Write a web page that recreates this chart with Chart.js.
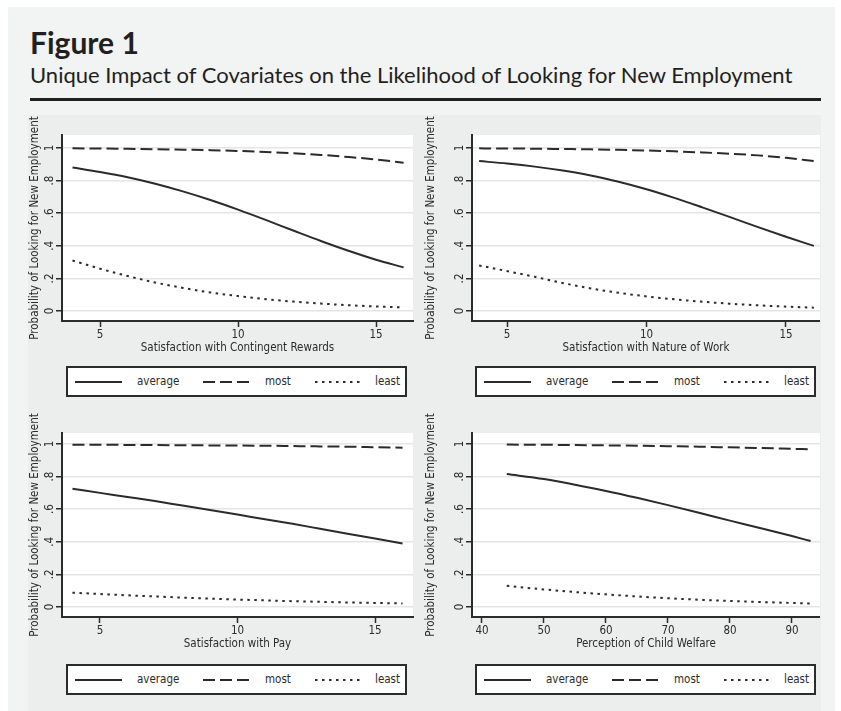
<!DOCTYPE html>
<html><head><meta charset="utf-8">
<script src="https://cdn.jsdelivr.net/npm/chart.js@4.4.1/dist/chart.umd.min.js"></script>
<style>
html,body{margin:0;padding:0;background:#fff;}
body{width:841px;height:711px;position:relative;overflow:hidden;}
#outer{position:absolute;left:8px;top:7px;width:827px;height:710px;background:#f2f3f3;}
#graph{position:absolute;left:28px;top:115px;width:793px;height:596px;background:#eceeee;}
#fig{position:absolute;left:30px;top:27px;font-family:Lato,"Open Sans",sans-serif;font-weight:bold;font-size:30px;line-height:1;color:#231f20;white-space:nowrap;}
#sub{position:absolute;left:30px;top:64px;font-family:Lato,"Open Sans",sans-serif;font-size:22px;line-height:1;color:#231f20;white-space:nowrap;}
#rule{position:absolute;left:30px;top:98px;width:791px;height:3px;background:#231f20;}
canvas.p{position:absolute;}
.leg{position:absolute;box-sizing:border-box;border:2px solid #2b2b2b;background:#fff;}
.leg svg{position:absolute;}
.leg span{position:absolute;font-family:"Liberation Sans Narrow","Arial Narrow","DejaVu Sans Condensed","Roboto Condensed",sans-serif;font-size:11.5px;line-height:1;color:#2b2b2b;white-space:nowrap;}
</style>
</head>
<body>
<div id="outer"></div>
<div id="fig">Figure 1</div>
<div id="sub">Unique Impact of Covariates on the Likelihood of Looking for New Employment</div>
<div id="rule"></div>
<div id="graph"></div>
<canvas class="p" id="c1"></canvas>
<canvas class="p" id="c2"></canvas>
<canvas class="p" id="c3"></canvas>
<canvas class="p" id="c4"></canvas>
<script>
// ---------- data ----------
const seriesNames = ["average", "most", "least"];
const yTicks = [0, 0.2, 0.4, 0.6, 0.8, 1];
const yTickLabels = ["0", ".2", ".4", ".6", ".8", "1"];
const yTitle = "Probability of Looking for New Employment";

// Panel 1: Satisfaction with Contingent Rewards
const crX = [4, 5, 6, 7, 8, 9, 10, 11, 12, 13, 14, 15, 16];
const crAverage = [0.88, 0.853, 0.821, 0.781, 0.734, 0.681, 0.622, 0.559, 0.494, 0.43, 0.37, 0.315, 0.268];
const crMost = [0.998, 0.997, 0.995, 0.993, 0.99, 0.987, 0.982, 0.976, 0.968, 0.958, 0.945, 0.93, 0.91];
const crLeast = [0.31, 0.26, 0.215, 0.175, 0.142, 0.114, 0.092, 0.073, 0.058, 0.046, 0.036, 0.028, 0.022];
const crTicks = [5, 10, 15];
const crTickLabels = ["5", "10", "15"];
const crTitle = "Satisfaction with Contingent Rewards";

// Panel 2: Satisfaction with Nature of Work
const nwX = [4, 5, 6, 7, 8, 9, 10, 11, 12, 13, 14, 15, 16];
const nwAverage = [0.92, 0.905, 0.886, 0.862, 0.832, 0.793, 0.747, 0.694, 0.636, 0.576, 0.515, 0.456, 0.40];
const nwMost = [0.998, 0.997, 0.996, 0.994, 0.992, 0.989, 0.985, 0.98, 0.973, 0.965, 0.955, 0.94, 0.92];
const nwLeast = [0.28, 0.245, 0.21, 0.172, 0.139, 0.112, 0.09, 0.072, 0.057, 0.045, 0.035, 0.027, 0.021];
const nwTicks = [5, 10, 15];
const nwTickLabels = ["5", "10", "15"];
const nwTitle = "Satisfaction with Nature of Work";

// Panel 3: Satisfaction with Pay
const payX = [4, 5, 6, 7, 8, 9, 10, 11, 12, 13, 14, 15, 16];
const payAverage = [0.725, 0.70, 0.675, 0.65, 0.622, 0.595, 0.567, 0.538, 0.51, 0.48, 0.45, 0.42, 0.39];
const payMost = [0.995, 0.995, 0.994, 0.993, 0.992, 0.991, 0.99, 0.989, 0.987, 0.985, 0.983, 0.98, 0.977];
const payLeast = [0.088, 0.08, 0.072, 0.065, 0.058, 0.052, 0.046, 0.041, 0.036, 0.032, 0.028, 0.025, 0.022];
const payTicks = [5, 10, 15];
const payTickLabels = ["5", "10", "15"];
const payTitle = "Satisfaction with Pay";

// Panel 4: Perception of Child Welfare
const cwX = [44, 50, 55, 60, 65, 70, 75, 80, 85, 90, 93];
const cwAverage = [0.815, 0.785, 0.75, 0.712, 0.67, 0.625, 0.578, 0.53, 0.483, 0.435, 0.405];
const cwMost = [0.996, 0.995, 0.993, 0.991, 0.989, 0.986, 0.983, 0.979, 0.975, 0.97, 0.967];
const cwLeast = [0.13, 0.108, 0.092, 0.078, 0.065, 0.054, 0.045, 0.037, 0.031, 0.025, 0.022];
const cwTicks = [40, 50, 60, 70, 80, 90];
const cwTickLabels = ["40", "50", "60", "70", "80", "90"];
const cwTitle = "Perception of Child Welfare";

// ---------- styling ----------
const FONT = '"Liberation Sans Narrow","Arial Narrow","DejaVu Sans Condensed","Roboto Condensed",sans-serif';
const FS = 11.5;
const INK = '#2b2b2b';
const dashes = [[], [12, 5], [2.5, 4.5]];

const whiteArea = {
  id: 'whiteArea',
  beforeDraw(chart) {
    const a = chart.chartArea, ctx = chart.ctx;
    ctx.save(); ctx.fillStyle = '#ffffff';
    ctx.fillRect(a.left, a.top, a.right - a.left, a.bottom - a.top);
    ctx.restore();
  }
};

function pts(xs, ys) { return xs.map((x, i) => ({ x: x, y: ys[i] })); }

function panel(p) {
  const cv = document.getElementById(p.id);
  cv.style.left = p.left + 'px'; cv.style.top = p.top + 'px';
  cv.width = p.w; cv.height = p.h;
  cv.style.width = p.w + 'px'; cv.style.height = p.h + 'px';
  const sets = [p.avg, p.most, p.least];
  new Chart(cv, {
    type: 'line',
    data: {
      datasets: sets.map((s, i) => ({
        label: seriesNames[i],
        data: pts(p.xs, s),
        borderColor: INK, borderWidth: 2, borderDash: dashes[i],
        pointRadius: 0, fill: false, cubicInterpolationMode: 'monotone'
      }))
    },
    options: {
      responsive: false, animation: false, devicePixelRatio: 1,
      layout: { padding: { top: p.padT, right: p.padR, bottom: 0, left: 0 } },
      plugins: { legend: { display: false }, tooltip: { enabled: false } },
      scales: {
        x: {
          type: 'linear', min: p.xMin, max: p.xMax,
          afterBuildTicks: s => { s.ticks = p.xTicks.map(v => ({ value: v })); },
          afterFit: s => { s.height = 34; },
          grid: { display: true, drawOnChartArea: false, drawTicks: true, tickLength: 6, tickColor: INK, tickWidth: 1.5 },
          border: { display: true, color: INK, width: 2 },
          ticks: { color: INK, font: { family: FONT, size: FS }, padding: 1, maxRotation: 0, autoSkip: false,
                   callback: (v, i) => p.xLabels[i] },
          title: { display: true, text: p.xTitle, color: INK, font: { family: FONT, size: FS }, padding: { top: 0, bottom: 0 } }
        },
        y: {
          type: 'linear', min: p.yMin, max: p.yMax,
          afterBuildTicks: s => { s.ticks = yTicks.map(v => ({ value: v })); },
          afterFit: s => { s.width = p.yW; },
          grid: { color: '#e4e6e6', lineWidth: 1.5, drawTicks: true, tickLength: 6, tickColor: INK, tickWidth: 1.5 },
          border: { display: true, color: INK, width: 2 },
          ticks: { color: INK, font: { family: FONT, size: FS }, padding: 1, minRotation: 90, maxRotation: 90, crossAlign: 'center',
                   callback: (v, i) => yTickLabels[i] },
          title: { display: true, text: yTitle, color: INK, font: { family: FONT, size: FS }, padding: 0 }
        }
      }
    },
    plugins: [whiteArea]
  });
  // legend (HTML)
  const lg = document.createElement('div');
  lg.className = 'leg';
  lg.style.left = p.legL + 'px'; lg.style.top = p.legT + 'px';
  lg.style.width = '341px'; lg.style.height = '31px';
  const lineX = [7, 135, 247], textX = [69, 197, 307], lineW = [47, 47, 45];
  seriesNames.forEach((n, i) => {
    const ns = 'http://www.w3.org/2000/svg';
    const svg = document.createElementNS(ns, 'svg');
    svg.setAttribute('width', lineW[i]); svg.setAttribute('height', 4);
    svg.style.left = lineX[i] + 'px'; svg.style.top = '12px';
    const ln = document.createElementNS(ns, 'line');
    ln.setAttribute('x1', 0); ln.setAttribute('y1', 2); ln.setAttribute('x2', lineW[i]); ln.setAttribute('y2', 2);
    ln.setAttribute('stroke', INK); ln.setAttribute('stroke-width', 2);
    if (dashes[i].length) ln.setAttribute('stroke-dasharray', dashes[i].join(' '));
    svg.appendChild(ln); lg.appendChild(svg);
    const sp = document.createElement('span');
    sp.textContent = n; sp.style.left = textX[i] + 'px'; sp.style.top = '8px';
    lg.appendChild(sp);
  });
  document.body.appendChild(lg);
}

panel({ id: 'c1', left: 28, top: 100, w: 392, h: 255, padT: 35, padR: 7, yW: 34, xs: crX, avg: crAverage, most: crMost, least: crLeast,
        xMin: 3.62, xMax: 16.34, yMin: -0.061, yMax: 1.08, xTicks: crTicks, xLabels: crTickLabels, xTitle: crTitle, legL: 66, legT: 366 });
panel({ id: 'c2', left: 424, top: 100, w: 396, h: 255, padT: 35, padR: 0, yW: 48, xs: nwX, avg: nwAverage, most: nwMost, least: nwLeast,
        xMin: 3.745, xMax: 16.22, yMin: -0.061, yMax: 1.08, xTicks: nwTicks, xLabels: nwTickLabels, xTitle: nwTitle, legL: 475, legT: 366 });
panel({ id: 'c3', left: 28, top: 398, w: 392, h: 253, padT: 35, padR: 7, yW: 34, xs: payX, avg: payAverage, most: payMost, least: payLeast,
        xMin: 3.62, xMax: 16.38, yMin: -0.061, yMax: 1.067, xTicks: payTicks, xLabels: payTickLabels, xTitle: payTitle, legL: 66, legT: 664 });
panel({ id: 'c4', left: 424, top: 398, w: 396, h: 253, padT: 35, padR: 0, yW: 48, xs: cwX, avg: cwAverage, most: cwMost, least: cwLeast,
        xMin: 38.39, xMax: 94.52, yMin: -0.061, yMax: 1.067, xTicks: cwTicks, xLabels: cwTickLabels, xTitle: cwTitle, legL: 475, legT: 664 });
</script>
</body></html>
